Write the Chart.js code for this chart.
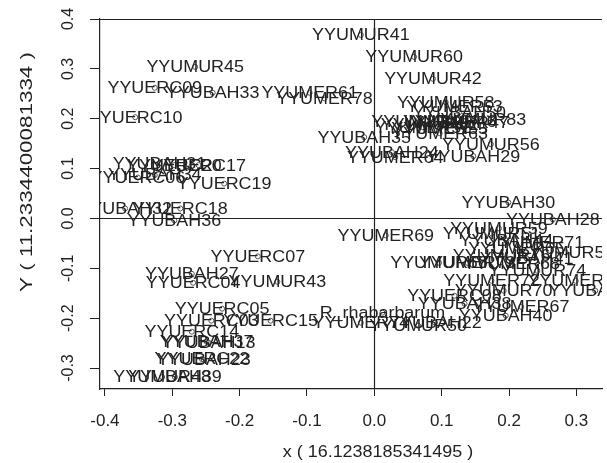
<!DOCTYPE html>
<html>
<head>
<meta charset="utf-8">
<script src="https://cdn.jsdelivr.net/npm/chart.js@4.4.1/dist/chart.umd.min.js"></script>
<style>
  html, body { margin: 0; padding: 0; background: #fff; }
  canvas { display: block; }
</style>
</head>
<body>
<canvas id="plot" width="607" height="463"></canvas>
<script>
// sample labels and their coordinates on the two axes
const pointNames = [
  'YYUMUR41', 'YYUMUR60', 'YYUMUR42', 'YYUMUR45', 'YYUERC09', 'YYUBAH33', 'YYUMER61', 'YYUMER78',
  'YYUERC10', 'YYUMUR58', 'YYUMER53', 'YYUBAH50', 'YYUMUR83', 'YYUMER47', 'YYUMUR49', 'YYUMER52',
  'YYUMUR62', 'YYUMER55', 'YYUBAH46', 'YYUMER63', 'YYUBAH35', 'YYUMUR56', 'YYUBAH24', 'YYUMER64',
  'YYUBAH29', 'YYUBAH31', 'YYUERC20', 'YYUERC17', 'YYUERC06', 'YYUBAH34', 'YYUERC19', 'YYUBAH32',
  'YYUERC18', 'YYUBAH36', 'YYUERC07', 'YYUBAH27', 'YYUERC04', 'YYUMUR43', 'YYUERC05', 'YYUERC03',
  'YYUERC15', 'YYUERC14', 'YYUBAH37', 'YYUBAH13', 'YYUERC22', 'YYUBAH23', 'YYUMUR48', 'YYUBAH39',
  'YYUMER69', 'YYUBAH30', 'R_rhabarbarum', 'YYUMER74', 'YYUMUR50', 'YYUBAH22', 'YYUERC08', 'YYUBAH38',
  'YYUMER67', 'YYUBAH40', 'YYUBAH28', 'YYUMUR59', 'YYUMER71', 'YYUMUR57', 'YYUMUR66', 'YYUMUR74',
  'YYUMER72', 'YYUMER79', 'YYUBAH75', 'YYUMUR70', 'YYUBAH44', 'YYUMER65', 'YYUMUR76', 'YYUBAH41',
  'YYUMER68', 'YYUMUR51', 'YYUMER73'
];
const pointX = [
  -0.020, 0.059, 0.087, -0.266, -0.326, -0.240, -0.096, -0.074,
  -0.355, 0.106, 0.119, 0.126, 0.153, 0.128, 0.068, 0.072,
  0.082, 0.097, 0.112, 0.097, -0.015, 0.173, 0.026, 0.031,
  0.147, -0.319, -0.297, -0.261, -0.351, -0.326, -0.223, -0.370,
  -0.288, -0.297, -0.173, -0.271, -0.269, -0.144, -0.226, -0.242,
  -0.154, -0.271, -0.249, -0.246, -0.256, -0.253, -0.315, -0.296,
  0.017, 0.199, 0.012, -0.020, 0.065, 0.090, 0.119, 0.134,
  0.218, 0.195, 0.265, 0.185, 0.240, 0.284, 0.096, 0.242,
  0.174, 0.299, 0.328, 0.192, 0.196, 0.211, 0.189, 0.226,
  0.204, 0.174, 0.138
];
const pointY = [
  0.368, 0.324, 0.280, 0.304, 0.262, 0.252, 0.252, 0.241,
  0.203, 0.233, 0.225, 0.213, 0.199, 0.193, 0.195, 0.183,
  0.189, 0.181, 0.195, 0.171, 0.163, 0.149, 0.133, 0.123,
  0.125, 0.111, 0.107, 0.107, 0.082, 0.087, 0.070, 0.020,
  0.020, -0.004, -0.076, -0.111, -0.129, -0.127, -0.181, -0.205,
  -0.205, -0.227, -0.247, -0.249, -0.282, -0.284, -0.318, -0.318,
  -0.034, 0.032, -0.189, -0.209, -0.215, -0.209, -0.155, -0.171,
  -0.177, -0.195, -0.002, -0.020, -0.048, -0.068, -0.089, -0.105,
  -0.125, -0.125, -0.145, -0.145, -0.044, -0.060, -0.074, -0.080,
  -0.091, -0.030, -0.089
];

const xTicks = [-0.4, -0.3, -0.2, -0.1, 0.0, 0.1, 0.2, 0.3];
const yTicks = [-0.3, -0.2, -0.1, 0.0, 0.1, 0.2, 0.3, 0.4];
const xTitle = 'x ( 16.1238185341495 )';
const yTitle = 'Y ( 11.2334400081334 )';

const INK = '#222';
const FONT = '"Liberation Sans", Arial, sans-serif';
const STRETCH = 1.12; // the picture is a little wider than it is tall

// R-style extras: box top, zero lines, text labels, rotated y ticks, axis titles
const rPlot = {
  id: 'rPlot',
  afterDatasetsDraw(chart) {
    const { ctx, chartArea: a, scales: { x, y } } = chart;
    ctx.save();
    ctx.strokeStyle = INK;
    ctx.lineWidth = 1.2;
    ctx.beginPath();
    ctx.moveTo(a.left, a.top + 0.5);
    ctx.lineTo(a.right, a.top + 0.5);
    const x0 = Math.round(x.getPixelForValue(0)) + 0.5;
    const y0 = Math.round(y.getPixelForValue(0)) + 0.5;
    ctx.moveTo(x0, a.top);
    ctx.lineTo(x0, a.bottom);
    ctx.moveTo(a.left, y0);
    ctx.lineTo(a.right, y0);
    ctx.stroke();

    // labels, clipped to the plot region like text() in R
    ctx.beginPath();
    ctx.rect(a.left, a.top, a.right - a.left, a.bottom - a.top);
    ctx.clip();
    ctx.fillStyle = INK;
    ctx.font = '16px ' + FONT;
    ctx.textAlign = 'center';
    ctx.textBaseline = 'middle';
    pointNames.forEach((name, i) => {
      const px = x.getPixelForValue(pointX[i]);
      const py = y.getPixelForValue(pointY[i]);
      ctx.save();
      ctx.translate(px, py);
      ctx.scale(STRETCH, 1);
      ctx.fillText(name, 0, 1);
      ctx.restore();
    });
    ctx.restore();
  },
  afterDraw(chart) {
    const { ctx, scales: { y } } = chart;
    ctx.save();
    ctx.fillStyle = INK;
    ctx.textAlign = 'center';
    ctx.textBaseline = 'middle';
    ctx.font = '16px ' + FONT;
    y.ticks.forEach(t => {
      ctx.save();
      ctx.translate(69, y.getPixelForValue(t.value));
      ctx.rotate(-Math.PI / 2);
      ctx.fillText(t.value.toFixed(1), 0, 0);
      ctx.restore();
    });
    // y title is drawn long and narrow in the original
    ctx.save();
    ctx.translate(28, 172);
    ctx.rotate(-Math.PI / 2);
    ctx.scale(1.4, 1);
    ctx.fillText(yTitle, 0, 0);
    ctx.restore();
    ctx.save();
    ctx.translate(378, 453);
    ctx.scale(STRETCH, 1);
    ctx.fillText(xTitle, 0, 0);
    ctx.restore();
    ctx.restore();
  }
};

new Chart(document.getElementById('plot'), {
  type: 'scatter',
  data: {
    datasets: [{
      data: pointNames.map((n, i) => ({ x: pointX[i], y: pointY[i] })),
      pointStyle: 'circle',
      pointRadius: 2.5,
      pointBorderWidth: 1,
      borderColor: '#555',
      backgroundColor: 'rgba(0,0,0,0)',
      clip: false
    }]
  },
  options: {
    responsive: false,
    devicePixelRatio: 1,
    animation: false,
    layout: { padding: { top: 19, left: 0, right: 0, bottom: 0 } },
    plugins: {
      legend: { display: false },
      tooltip: { enabled: false }
    },
    scales: {
      x: {
        type: 'linear',
        min: -0.4073,
        max: 0.338,
        afterBuildTicks: s => { s.ticks = xTicks.map(v => ({ value: v })); },
        afterFit: s => { s.height = 74; },
        ticks: {
          color: INK,
          font: { family: FONT, size: 17 },
          padding: 15,
          maxRotation: 0,
          autoSkip: false,
          callback: v => v.toFixed(1)
        },
        grid: { drawOnChartArea: false, color: INK, tickLength: 7, lineWidth: 1 },
        border: { display: true, color: INK, width: 1.2 }
      },
      y: {
        type: 'linear',
        min: -0.342,
        max: 0.4,
        afterBuildTicks: s => { s.ticks = yTicks.map(v => ({ value: v })); },
        afterFit: s => { s.width = 100; },
        ticks: { display: false },
        grid: { drawOnChartArea: false, color: INK, tickLength: 10, lineWidth: 1 },
        border: { display: true, color: INK, width: 1.2 }
      }
    }
  },
  plugins: [rPlot]
});
</script>
</body>
</html>
